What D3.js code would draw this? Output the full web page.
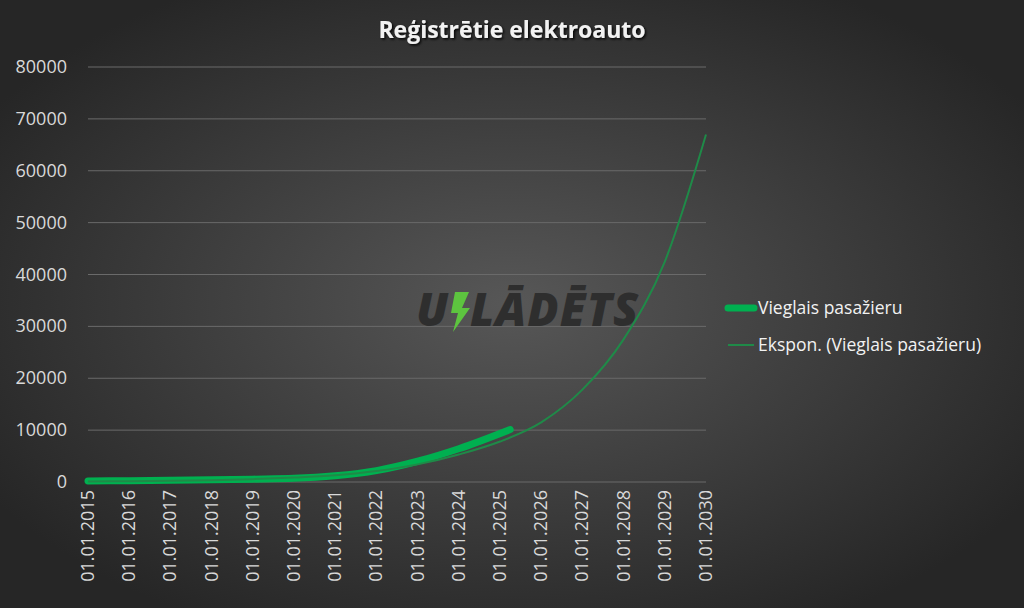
<!DOCTYPE html>
<html><head><meta charset="utf-8">
<script src="https://cdn.jsdelivr.net/npm/d3@7"></script>
<style>body{margin:0;background:#2b2b2b}svg{display:block}</style></head>
<body><svg id="c" width="1024" height="608"></svg>
<script>
const seriesDates = ["2015-01-01","2016-01-01","2017-01-01","2018-01-01","2019-01-01","2020-01-01","2021-01-01","2022-01-01","2023-01-01","2024-01-01","2025-04-01"];
const seriesValues = [200,260,330,420,550,700,1200,2200,4000,6400,10100];
const trendDates = ["2015-01-01","2016-01-01","2017-01-01","2018-01-01","2019-01-01","2020-01-01","2021-01-01","2022-01-01","2023-01-01","2024-01-01","2025-01-01","2026-01-01","2027-01-01","2028-01-01","2029-01-01","2030-01-01"];
const trendValues = [100,150,230,360,550,850,1300,2100,3400,5300,7800,11500,17800,27500,42500,67000];
const yTicks = [0,10000,20000,30000,40000,50000,60000,70000,80000];
const xTickYears = d3.range(2015,2031);
const seriesName = "Vieglais pasažieru", trendName = "Ekspon. (Vieglais pasažieru)";

const svg = d3.select("#c");
const defs = svg.append("defs");
const g = defs.append("radialGradient").attr("id","bg").attr("cx","50%").attr("cy","50%").attr("r","60%");
g.append("stop").attr("offset","0%").attr("stop-color","#575757");
g.append("stop").attr("offset","100%").attr("stop-color","#262626");
const f = defs.append("filter").attr("id","sh");
f.append("feDropShadow").attr("dx",1.5).attr("dy",1.5).attr("stdDeviation",0.8).attr("flood-color","#000").attr("flood-opacity",0.9);
svg.append("rect").attr("width",1024).attr("height",608).attr("fill","url(#bg)");

const parse = d3.timeParse("%Y-%m-%d");
const x = d3.scaleTime().domain([new Date(2015,0,1), new Date(2030,0,1)]).range([88,706]);
const y = d3.scaleLinear().domain([0,80000]).range([482,67]);
const font = "Open Sans, Liberation Sans, sans-serif";

svg.append("g").selectAll("line").data(yTicks).join("line")
 .attr("x1",88).attr("x2",706).attr("y1",d=>y(d)).attr("y2",d=>y(d))
 .attr("stroke","#6a6a6a").attr("stroke-width",1);
svg.append("g").selectAll("text").data(yTicks).join("text")
 .attr("x",67).attr("y",d=>y(d)+6).attr("text-anchor","end")
 .attr("fill","#d9d9d9").attr("font-family",font).attr("font-size",18).text(d=>d);
svg.append("g").selectAll("text").data(xTickYears).join("text")
 .attr("transform",d=>`translate(${x(new Date(d,0,1))+6},490) rotate(-90)`)
 .attr("text-anchor","end").attr("fill","#d9d9d9").attr("font-family",font).attr("font-size",18)
 .text(d=>"01.01."+d);

// watermark
const wm = svg.append("g");
wm.append("text").attr("x",416).attr("y",326).attr("font-family",font).attr("font-weight",800)
 .attr("font-style","italic").attr("font-size",46).attr("fill","#2e2e2e").attr("letter-spacing",2).text("U");
wm.append("path").attr("d","M455,292 L469,292 L462,308 L470,308 L453,332 L458,313 L451,313 Z").attr("fill","#5dc43f");
wm.append("text").attr("x",470).attr("y",326).attr("font-family",font).attr("font-weight",800)
 .attr("font-style","italic").attr("font-size",46).attr("fill","#2e2e2e").attr("letter-spacing",1).text("LĀDĒTS");

const line = d3.line().x(d=>x(d[0])).y(d=>y(d[1])).curve(d3.curveMonotoneX);
svg.append("path").datum(seriesDates.map((d,i)=>[parse(d),seriesValues[i]]))
 .attr("d",line).attr("fill","none").attr("stroke","#00b050").attr("stroke-width",7).attr("stroke-linecap","round");
svg.append("path").datum(trendDates.map((d,i)=>[parse(d),trendValues[i]]))
 .attr("d",line).attr("fill","none").attr("stroke","#1f8a48").attr("stroke-width",2);

svg.append("text").attr("x",512).attr("y",38).attr("text-anchor","middle").attr("font-family",font)
 .attr("font-weight",700).attr("font-size",23).attr("fill","#f2f2f2").attr("filter","url(#sh)")
 .text("Reģistrētie elektroauto");

svg.append("line").attr("x1",728).attr("x2",754).attr("y1",308).attr("y2",308).attr("stroke","#00b050").attr("stroke-width",7).attr("stroke-linecap","round");
svg.append("text").attr("x",758).attr("y",314).attr("font-family",font).attr("font-size",17.5).attr("fill","#f2f2f2").text(seriesName);
svg.append("line").attr("x1",728).attr("x2",754).attr("y1",345).attr("y2",345).attr("stroke","#1f8a48").attr("stroke-width",2);
svg.append("text").attr("x",758).attr("y",351).attr("font-family",font).attr("font-size",17.5).attr("fill","#f2f2f2").text(trendName);
</script></body></html>
